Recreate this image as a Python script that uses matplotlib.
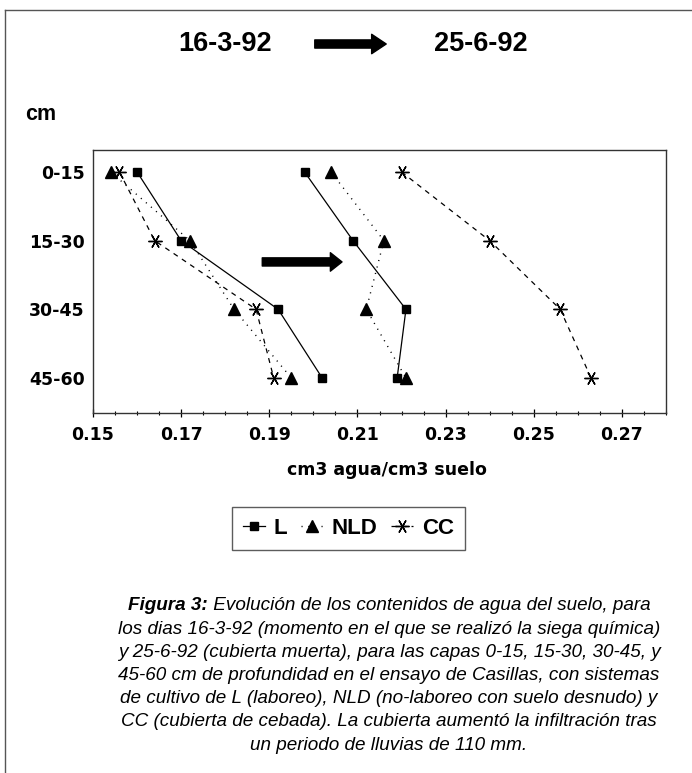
import matplotlib
matplotlib.use("Agg")
import matplotlib.pyplot as plt
from matplotlib.lines import Line2D
from matplotlib.ticker import MultipleLocator

# ---- data ----
depths = ["0-15", "15-30", "30-45", "45-60"]
dates = ["16-3-92", "25-6-92"]
L_d1 = [0.160, 0.170, 0.192, 0.202]
NLD_d1 = [0.154, 0.172, 0.182, 0.195]
CC_d1 = [0.156, 0.164, 0.187, 0.191]
L_d2 = [0.198, 0.209, 0.221, 0.219]
NLD_d2 = [0.204, 0.216, 0.212, 0.221]
CC_d2 = [0.220, 0.240, 0.256, 0.263]
xticks = [0.15, 0.17, 0.19, 0.21, 0.23, 0.25, 0.27]
series_names = ["L", "NLD", "CC"]

W, H = 692, 773
fig = plt.figure(figsize=(W / 100, H / 100), dpi=100)

def fx(px):
    return px / W

def fy(py):
    return 1 - py / H

ax = fig.add_axes([fx(93), fy(413), fx(666) - fx(93), fy(150) - fy(413)])

ypos = list(range(len(depths)))
star = (6, 2, 90)
styles = {
    "L": dict(color="black", ls="-", lw=0.9, marker="s", ms=5.5),
    "NLD": dict(color="black", ls=(0, (0.8, 4)), lw=1.0, marker="^", ms=8),
    "CC": dict(color="black", ls=(0, (4, 4)), lw=0.9, marker=star, ms=10, mew=1.0),
}
for name, d1, d2 in [("L", L_d1, L_d2), ("NLD", NLD_d1, NLD_d2), ("CC", CC_d1, CC_d2)]:
    ax.plot(d1, ypos, **styles[name])
    ax.plot(d2, ypos, **styles[name])

ax.set_xlim(0.15, 0.28)
ax.set_ylim(3.51, -0.32)
ax.set_yticks(ypos)
ax.set_yticklabels(depths)
ax.set_xticks(xticks)
ax.set_xticklabels([f"{v:.2f}" for v in xticks])
ax.xaxis.set_minor_locator(MultipleLocator(0.005))
ax.tick_params(axis="y", length=0, pad=6)
ax.tick_params(axis="x", which="major", direction="inout", length=6, width=0.9, pad=6)
ax.tick_params(axis="x", which="minor", direction="inout", length=3, width=0.8)
for lab in ax.get_xticklabels() + ax.get_yticklabels():
    lab.set_fontfamily("DejaVu Sans")
    lab.set_fontweight("bold")
    lab.set_fontsize(12.5)
for sp in ax.spines.values():
    sp.set_linewidth(1.0)
    sp.set_color("#333333")

# arrow inside the plot
ax.annotate("", xy=(0.2065, 1.31), xytext=(0.1884, 1.31),
            arrowprops=dict(arrowstyle="simple,head_length=0.6,head_width=0.95,tail_width=0.42",
                            color="black", mutation_scale=14, shrinkA=0, shrinkB=0))

# axis label
fig.text(fx(387), fy(470), "cm3 agua/cm3 suelo", ha="center", va="center",
         fontfamily="DejaVu Sans", fontweight="bold", fontsize=12.5)

# title
fig.text(fx(225), fy(44), dates[0], ha="center", va="center",
         fontfamily="Liberation Sans", fontweight="bold", fontsize=19.5)
fig.text(fx(481), fy(44), dates[1], ha="center", va="center",
         fontfamily="Liberation Sans", fontweight="bold", fontsize=19.5)
fig.patches.append(matplotlib.patches.FancyArrowPatch(
    (fx(312), fy(44)), (fx(389), fy(44)), transform=fig.transFigure,
    arrowstyle="simple,head_length=0.75,head_width=1.0,tail_width=0.42",
    mutation_scale=14, color="black"))

fig.text(fx(25), fy(115), "cm", ha="left", va="center",
         fontfamily="Liberation Sans", fontweight="bold", fontsize=15.5)

# legend
handles = [Line2D([], [], **styles[n]) for n in series_names]
leg = fig.legend(handles, series_names, loc="center", bbox_to_anchor=(fx(348.5), fy(528.5)),
                 ncol=3, frameon=True, handlelength=1.0, handletextpad=0.4,
                 columnspacing=0.6, borderpad=0.5, fancybox=False,
                 prop=dict(family="Liberation Sans", weight="bold", size=16))
leg.get_frame().set_edgecolor("#333333")
leg.get_frame().set_linewidth(1.0)

# outer frame (top and left)
fig.add_artist(Line2D([fx(5), fx(692)], [fy(10), fy(10)], transform=fig.transFigure,
                      color="#555555", lw=1.0))
fig.add_artist(Line2D([fx(5), fx(5)], [fy(10), fy(773)], transform=fig.transFigure,
                      color="#555555", lw=1.0))

# caption
cap_lines = [
    "los dias 16-3-92 (momento en el que se realizó la siega química)",
    "y 25-6-92 (cubierta muerta), para las capas 0-15, 15-30, 30-45, y",
    "45-60 cm de profundidad en el ensayo de Casillas, con sistemas",
    "de cultivo de L (laboreo), NLD (no-laboreo con suelo desnudo) y",
    "CC (cubierta de cebada). La cubierta aumentó la infiltración tras",
    "un periodo de lluvias de 110 mm.",
]
cap_fs = 13.6
cx = 389
y0 = 606
dy = 23.2
renderer = fig.canvas.get_renderer()
t1 = fig.text(0, fy(y0), "Figura 3:", ha="left", va="center", fontfamily="Liberation Sans",
              fontstyle="italic", fontweight="bold", fontsize=cap_fs)
t2 = fig.text(0, fy(y0), " Evolución de los contenidos de agua del suelo, para", ha="left",
              va="center", fontfamily="Liberation Sans", fontstyle="italic", fontsize=cap_fs)
w1 = t1.get_window_extent(renderer).width
w2 = t2.get_window_extent(renderer).width
start = cx - (w1 + w2) / 2
t1.set_x(fx(start))
t2.set_x(fx(start + w1))
for i, line in enumerate(cap_lines):
    fig.text(fx(cx), fy(y0 + dy * (i + 1)), line, ha="center", va="center",
             fontfamily="Liberation Sans", fontstyle="italic", fontsize=cap_fs)

fig.savefig("out.png", dpi=100)
